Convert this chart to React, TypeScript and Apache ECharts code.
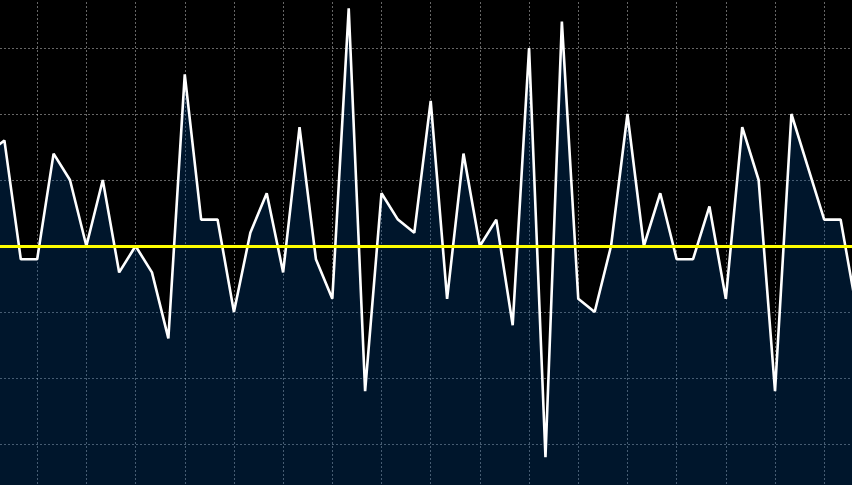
import React, { useEffect, useRef } from "react";
import * as echarts from "echarts";

// Category labels (axis hidden in the picture)
const categories: string[] = Array.from({ length: 54 }, (_, i) => String(i + 1));

// Series values (first and last points sit just outside the visible window)
const values: number[] = [
  7, 8, -1, -1, 7, 5, 0, 5, -2, 0,
  -2, -7, 13, 2, 2, -5, 1, 4, -2, 9,
  -1, -4, 18, -11, 4, 2, 1, 11, -4, 7,
  0, 2, -6, 15, -16, 17, -4, -5, 0, 10,
  0, 4, -1, -1, 3, -4, 9, 5, -11, 10,
  6, 2, 2, -5,
];

// Reference level drawn in yellow
const referenceLevel = 0;

// Value axis bounds
const yMin = -20;
const yMax = 20;
const yStep = 5;

export default function App() {
  const ref = useRef<HTMLDivElement>(null);

  useEffect(() => {
    if (!ref.current) return;
    const chart = echarts.init(ref.current, undefined, { renderer: "svg" });
    chart.setOption({
      animation: false,
      backgroundColor: "#000000",
      grid: { left: 0, right: 0, top: 0, bottom: 0, containLabel: false },
      xAxis: {
        type: "category",
        data: categories,
        boundaryGap: false,
        axisLine: { show: false },
        axisTick: { show: false, interval: 2 },
        axisLabel: { show: false, interval: 2 },
        splitLine: {
          show: true,
          interval: 2,
          lineStyle: { color: "rgba(255,255,255,0.4)", type: [2, 2], width: 1 },
        },
      },
      yAxis: {
        type: "value",
        min: yMin,
        max: yMax,
        interval: yStep,
        axisLine: { show: false },
        axisTick: { show: false },
        axisLabel: { show: false },
        splitLine: {
          show: true,
          lineStyle: { color: "rgba(255,255,255,0.4)", type: [2, 2], width: 1 },
        },
      },
      series: [
        {
          type: "line",
          data: values,
          showSymbol: false,
          symbol: "none",
          lineStyle: { color: "#ffffff", width: 2.6 },
          areaStyle: { color: "rgba(0,70,140,0.45)", origin: "start" },
          markLine: {
            silent: true,
            symbol: ["none", "none"],
            label: { show: false },
            lineStyle: { color: "#ffff00", type: "solid", width: 3 },
            data: [{ yAxis: referenceLevel }],
          },
        },
      ],
    });
    return () => chart.dispose();
  }, []);

  return (
    <div
      style={{
        position: "fixed",
        left: 0,
        top: 0,
        width: 852,
        height: 485,
        overflow: "hidden",
        background: "#000000",
      }}
    >
      <div
        ref={ref}
        style={{ position: "absolute", left: -12, top: -18, width: 869, height: 528 }}
      />
    </div>
  );
}
